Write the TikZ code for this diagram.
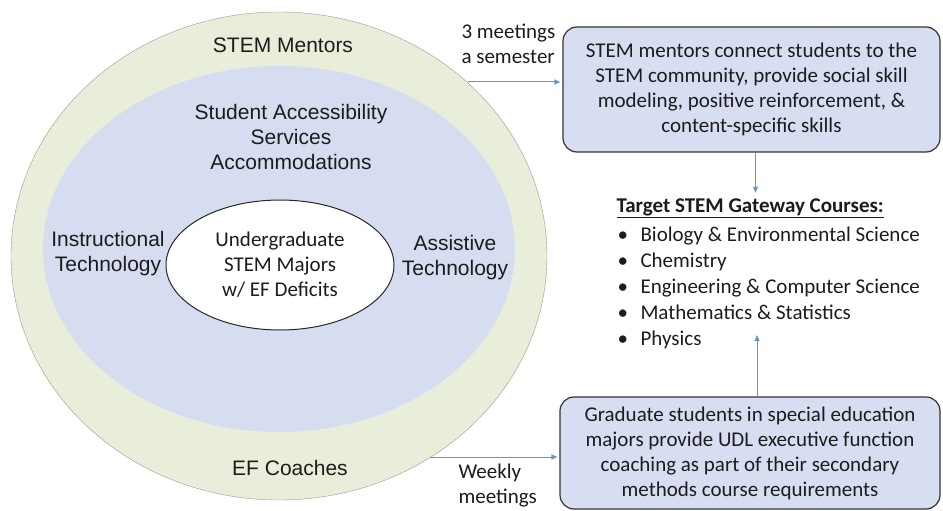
\documentclass[tikz,border=0pt]{standalone}
\usepackage{fontspec}
\setmainfont{Carlito}
\newfontfamily\arialfont{Liberation Sans}
\usetikzlibrary{shapes, positioning, arrows.meta}

\definecolor{ringgreen}{RGB}{233,238,218}
\definecolor{servblue}{RGB}{214,221,241}
\definecolor{boxblue}{RGB}{216,222,242}
\definecolor{arrowblue}{RGB}{104,150,196}
\definecolor{inkgray}{RGB}{28,28,28}

\begin{document}
\begin{tikzpicture}[x=1bp, y=-1bp,
        ring/.style={ellipse, inner sep=0pt},
        info/.style={draw=black!80, line width=1.2bp, fill=boxblue, rounded corners=14bp, inner sep=0pt},
        flow/.style={draw=arrowblue, line width=1bp, -{Triangle[length=6bp, width=5bp]}, shorten >=2bp},
        sans/.style={font=\arialfont\fontsize{21bp}{25bp}\selectfont, text=inkgray, align=center},
        body/.style={font=\fontsize{21bp}{25bp}\selectfont, text=inkgray, align=center}]

        \useasboundingbox (0,0) rectangle (943,511);

        % nested rings
        \node[ring, draw=black!40, fill=ringgreen, minimum width=536bp, minimum height=488bp] (outer) at (279,256) {};
        \node[ring, fill=servblue, minimum width=472bp, minimum height=366bp] (sas) at (279,249) {};
        \node[ring, draw=black!85, line width=1bp, fill=white, minimum width=228bp, minimum height=130bp, body] (majors) at (280,265) {Undergraduate\\ STEM Majors\\ w/ EF Deficits};

        \node[sans] (mentors) at (283,45) {STEM Mentors};
        \node[sans] (services) at (291,137) {Student Accessibility\\ Services\\ Accommodations};
        \node[sans] (instr) at (108,254) {Instructional\\ Technology};
        \node[sans] (assist) at (455,258) {Assistive\\ Technology};
        \node[sans] (coaches) at (290,468) {EF Coaches};

        % boxes on the right
        \node[info, minimum width=377bp, minimum height=125bp, body] (mentorbox) at (751.5,89.5) {STEM mentors connect students to the\\ STEM community, provide social skill\\ modeling, positive reinforcement, \&\\ content-specific skills};
        \node[info, minimum width=380bp, minimum height=112bp, body] (coachbox) at (750,453) {Graduate students in special education\\ majors provide UDL executive function\\ coaching as part of their secondary\\ methods course requirements};

        \node[body, anchor=west] (target) at (613,208) {\underline{\textbf{Target STEM Gateway Courses:}}};
        \node[body, align=left, anchor=west, font=\fontsize{21bp}{25.8bp}\selectfont] (courses) at (614,288) {%
            \makebox[23bp][l]{\textbullet}Biology \& Environmental Science\\
            \makebox[23bp][l]{\textbullet}Chemistry\\
            \makebox[23bp][l]{\textbullet}Engineering \& Computer Science\\
            \makebox[23bp][l]{\textbullet}Mathematics \& Statistics\\
            \makebox[23bp][l]{\textbullet}Physics};

        \node[body, align=left, anchor=west] (sem) at (458,44) {3 meetings\\ a semester};
        \node[body, align=left, anchor=west] (weekly) at (455,486) {Weekly\\ meetings};

        \coordinate (mtail) at (468,82);
        \coordinate (ctail) at (430,457);
        \coordinate (upfoot) at ([xshift=7bp]coachbox.north);
        \coordinate (uptip) at (757,333);

        \draw[flow] (mtail) -- (mtail -| mentorbox.west);
        \draw[flow] (ctail) -- (ctail -| coachbox.west);
        \draw[flow] ([xshift=4bp]mentorbox.south) -- ([xshift=4bp]mentorbox.south |- target.north);
        \draw[flow] (upfoot) -- (upfoot |- uptip);
    \end{tikzpicture}
\end{document}
